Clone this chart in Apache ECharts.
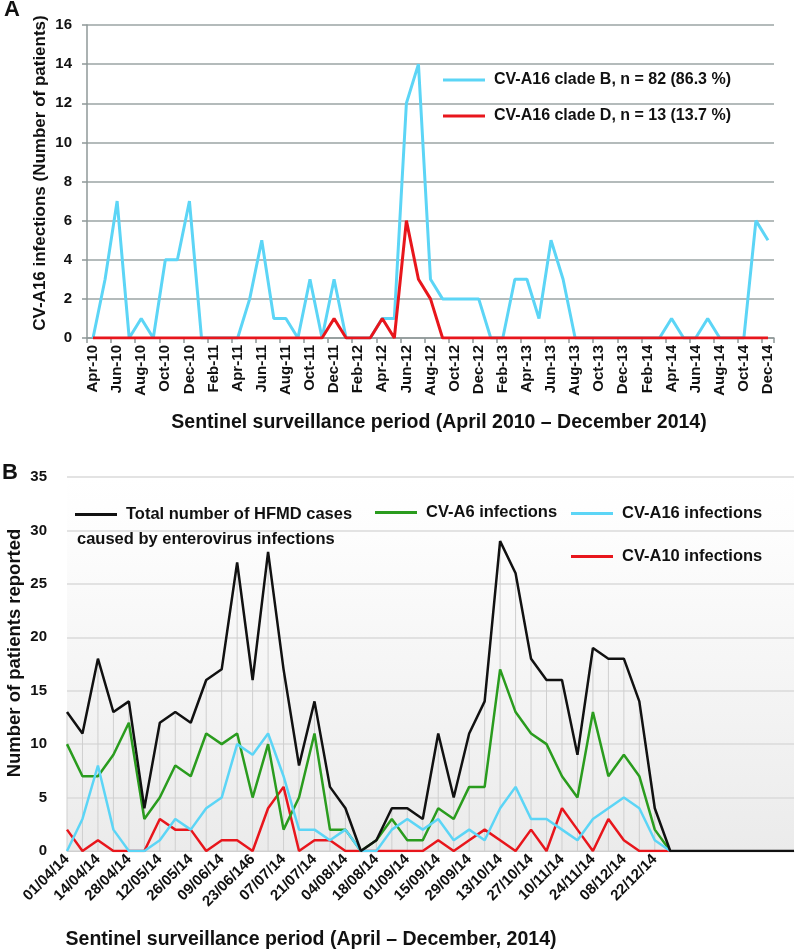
<!DOCTYPE html>
<html><head><meta charset="utf-8">
<script src="https://cdn.jsdelivr.net/npm/echarts@6/dist/echarts.min.js"></script>
<style>html,body{margin:0;padding:0;background:#fff}#c{width:800px;height:952px}</style>
</head><body><div id="c"></div>
<script>
// ---------- Panel A data ----------
const monthLabelsA = ['Apr-10','May-10','Jun-10','Jul-10','Aug-10','Sep-10','Oct-10','Nov-10','Dec-10',
 'Jan-11','Feb-11','Mar-11','Apr-11','May-11','Jun-11','Jul-11','Aug-11','Sep-11','Oct-11','Nov-11','Dec-11',
 'Jan-12','Feb-12','Mar-12','Apr-12','May-12','Jun-12','Jul-12','Aug-12','Sep-12','Oct-12','Nov-12','Dec-12',
 'Jan-13','Feb-13','Mar-13','Apr-13','May-13','Jun-13','Jul-13','Aug-13','Sep-13','Oct-13','Nov-13','Dec-13',
 'Jan-14','Feb-14','Mar-14','Apr-14','May-14','Jun-14','Jul-14','Aug-14','Sep-14','Oct-14','Nov-14','Dec-14'];
const cladeB = [0,3,7,0,1,0,4,4,7,0, 0,0,0,2,5,1,1,0,3,0, 3,0,0,0,1,1,12,14,3,2, 2,2,2,0,0,3,3,1,5,3, 0,0,0,0,0,0,0,0,1,0, 0,1,0,0,0,6,5];
const cladeD = [0,0,0,0,0,0,0,0,0,0, 0,0,0,0,0,0,0,0,0,0, 1,0,0,0,1,0,6,3,2,0, 0,0,0,0,0,0,0,0,0,0, 0,0,0,0,0,0,0,0,0,0, 0,0,0,0,0,0,0];
const nameB = 'CV-A16 clade B, n = 82 (86.3 %)';
const nameD = 'CV-A16 clade D, n = 13 (13.7 %)';

// ---------- Panel B data ----------
const weekLabelsB = ['01/04/14','07/04/14','14/04/14','21/04/14','28/04/14','05/05/14','12/05/14','19/05/14',
 '26/05/14','02/06/14','09/06/14','16/06/14','23/06/146','30/06/14','07/07/14','14/07/14','21/07/14','28/07/14',
 '04/08/14','11/08/14','18/08/14','25/08/14','01/09/14','08/09/14','15/09/14','22/09/14','29/09/14','06/10/14',
 '13/10/14','20/10/14','27/10/14','03/11/14','10/11/14','17/11/14','24/11/14','01/12/14','08/12/14','15/12/14',
 '22/12/14','29/12/14','','','','','','','',''];
const totalHFMD = [13,11,18,13,14,4,12,13,12,16,17,27,16,28,17,8,14,6,4,0,1,4,4,3,11,5,11,14,29,26,18,16,16,9,19,18,18,14,4,0,0,0,0,0,0,0,0,0];
const cvA6  = [10,7,7,9,12,3,5,8,7,11,10,11,5,10,2,5,11,2,2,0,1,3,1,1,4,3,6,6,17,13,11,10,7,5,13,7,9,7,2,0];
const cvA16 = [0,3,8,2,0,0,1,3,2,4,5,10,9,11,7,2,2,1,2,0,0,2,3,2,3,1,2,1,4,6,3,3,2,1,3,4,5,4,1,0];
const cvA10 = [2,0,1,0,0,0,3,2,2,0,1,1,0,4,6,0,1,1,0,0,0,0,0,0,1,0,1,2,1,0,2,0,4,2,0,3,1,0,0,0];
const nTotal = 'Total number of HFMD cases';
const nA6 = 'CV-A6 infections', nA16 = 'CV-A16 infections', nA10 = 'CV-A10 infections';

const FF = '"Liberation Sans", Arial, Helvetica, sans-serif';
const chart = echarts.init(document.getElementById('c'), null, {renderer:'canvas'});
const lbl = (fs) => ({fontFamily:FF, fontWeight:'bold', fontSize:fs, color:'#111'});
const leg = (name, left, top, fs) => ({data:[name], left, top, padding:0, icon:'rect', itemWidth:42, itemHeight:3,
  selectedMode:false, textStyle:Object.assign(lbl(fs), {padding:[0,0,0,4]})});
const gtext = (text, x, y, fs, rot, align) => ({type:'text', x, y, rotation:rot||0, z:100,
  style:{text, font:'bold '+fs+'px '+FF, fill:'#111', align:align||'center', verticalAlign:'middle',
         textAlign:align||'center', textVerticalAlign:'middle'}});

chart.setOption({
  animation:false,
  backgroundColor:'#fff',
  grid:[
    {left:87, right:26, top:25, height:313},
    {left:67, right:6, top:477, bottom:101, show:true, borderWidth:0,
     backgroundColor:{type:'linear', x:0, y:0, x2:0, y2:1, colorStops:[
       {offset:0, color:'#ffffff'},{offset:0.15, color:'#fdfdfd'},{offset:1, color:'#ebebeb'}]}}
  ],
  xAxis:[
    {gridIndex:0, type:'category', data:monthLabelsA, boundaryGap:true,
     axisLine:{lineStyle:{color:'#8f9898', width:1.5}},
     axisTick:{show:true, interval:1, length:5, lineStyle:{color:'#8f9898', width:1.5}},
     axisLabel:Object.assign(lbl(15), {interval:1, rotate:90, margin:7}),
     splitLine:{show:false}},
    {gridIndex:1, type:'category', data:weekLabelsB, boundaryGap:false,
     axisLine:{lineStyle:{color:'#cfcfcf'}}, axisTick:{show:false},
     axisLabel:Object.assign(lbl(15), {interval:1, rotate:45, margin:6}),
     splitLine:{show:false}}
  ],
  yAxis:[
    {gridIndex:0, type:'value', min:0, max:16, interval:2,
     axisLine:{show:true, lineStyle:{color:'#8f9898', width:1.5}},
     axisTick:{show:true, length:5, lineStyle:{color:'#8f9898', width:1.5}},
     axisLabel:Object.assign(lbl(15), {margin:15}),
     splitLine:{lineStyle:{color:'#9ba4a4', width:1.5}}},
    {gridIndex:1, type:'value', min:0, max:35, interval:5,
     axisLine:{show:false}, axisTick:{show:false},
     axisLabel:Object.assign(lbl(15), {margin:20}),
     splitLine:{lineStyle:{color:'#dadada', width:1.5}}}
  ],
  legend:[
    leg(nameB, 443, 72, 16), leg(nameD, 443, 108, 16),
    leg(nTotal, 75, 506, 16.5), leg(nA6, 375, 504, 16.5), leg(nA16, 571, 505, 16.5), leg(nA10, 571, 548, 16.5)
  ],
  series:[
    {name:nameB, type:'line', xAxisIndex:0, yAxisIndex:0, data:cladeB, symbol:'none',
     color:'#5cd5f6', lineStyle:{width:3, color:'#5cd5f6'}},
    {name:nameD, type:'line', xAxisIndex:0, yAxisIndex:0, data:cladeD, symbol:'none',
     color:'#e8161c', lineStyle:{width:3, color:'#e8161c'}},
    {name:'dropLines', type:'bar', xAxisIndex:1, yAxisIndex:1, data:totalHFMD.slice(0,40), barWidth:1,
     silent:true, itemStyle:{color:'#cfcfcf'}, z:1},
    {name:nA10, type:'line', xAxisIndex:1, yAxisIndex:1, data:cvA10, symbol:'none',
     color:'#e8161c', lineStyle:{width:2.5, color:'#e8161c'}},
    {name:nA6, type:'line', xAxisIndex:1, yAxisIndex:1, data:cvA6, symbol:'none',
     color:'#2a9c1e', lineStyle:{width:2.5, color:'#2a9c1e'}},
    {name:nA16, type:'line', xAxisIndex:1, yAxisIndex:1, data:cvA16, symbol:'none',
     color:'#5cd5f6', lineStyle:{width:2.5, color:'#5cd5f6'}},
    {name:nTotal, type:'line', xAxisIndex:1, yAxisIndex:1, data:totalHFMD, symbol:'none',
     color:'#111111', lineStyle:{width:2.5, color:'#111111'}}
  ],
  graphic:[
    gtext('A', 12, 10, 22),
    gtext('B', 10, 473, 22),
    gtext('CV-A16 infections (Number of patients)', 40, 173, 17, Math.PI/2),
    gtext('Sentinel surveillance period (April 2010 \u2013 December 2014)', 439, 423, 19.5),
    gtext('Number of patients reported', 15, 653, 18.5, Math.PI/2),
    gtext('Sentinel surveillance period (April \u2013 December, 2014)', 311, 940, 19.5),
    gtext('caused by enterovirus infections', 77, 539, 16.5, 0, 'left')
  ]
});
</script></body></html>
